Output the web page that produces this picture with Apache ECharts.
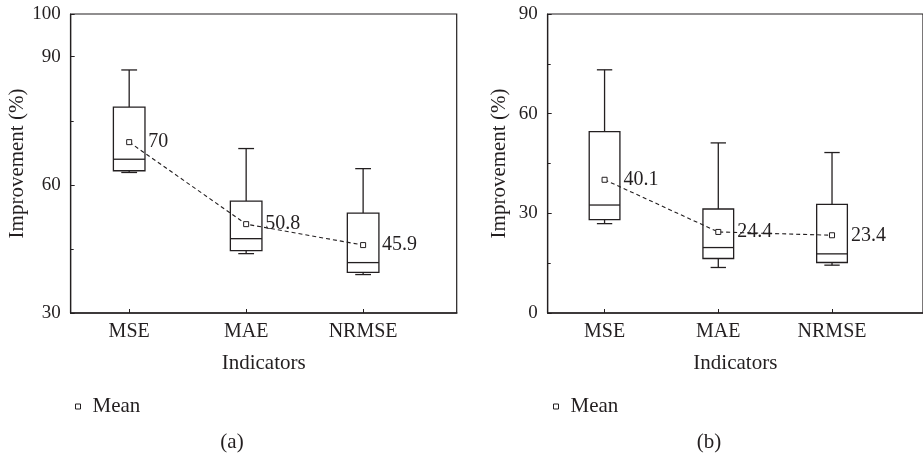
<!DOCTYPE html>
<html>
<head>
<meta charset="utf-8">
<script src="https://cdn.jsdelivr.net/npm/echarts@6/dist/echarts.min.js"></script>
<style>html,body{margin:0;padding:0;background:#fff}#c{width:923px;height:459px}</style>
</head>
<body>
<div id="c"></div>
<script>
// ---- data ----
const categories = ['MSE', 'MAE', 'NRMSE'];
const catPos = [1, 2, 3];
// panel (a)
const aLow = [62.9, 43.9, 39.0];
const aQ1 = [63.3, 44.6, 39.5];
const aMedian = [66.0, 47.4, 41.8];
const aQ3 = [78.2, 56.2, 53.4];
const aHigh = [86.9, 68.5, 63.8];
const aMean = [70, 50.8, 45.9];
// panel (b)
const bLow = [26.9, 13.7, 14.4];
const bQ1 = [28.1, 16.4, 15.2];
const bMedian = [32.5, 19.7, 17.8];
const bQ3 = [54.6, 31.3, 32.7];
const bHigh = [73.2, 51.2, 48.3];
const bMean = [40.1, 24.4, 23.4];

const INK = '#231f20';
const FONT = '"Liberation Serif", "DejaVu Serif", serif';

function boxRows(lo, q1, md, q3, hi) {
  return catPos.map((x, i) => [x, lo[i], q1[i], md[i], q3[i], hi[i]]);
}
function meanRows(m) { return catPos.map((x, i) => [x, m[i]]); }

function renderBox(params, api) {
  const x = api.value(0);
  const lo = api.coord([x, api.value(1)]);
  const q1 = api.coord([x, api.value(2)]);
  const md = api.coord([x, api.value(3)]);
  const q3 = api.coord([x, api.value(4)]);
  const hi = api.coord([x, api.value(5)]);
  const unit = api.size([1, 0])[0];
  const bw = unit * 0.27, cw = unit * 0.135;
  const cx = lo[0];
  const st = { stroke: INK, lineWidth: 1.3, fill: null };
  return {
    type: 'group',
    children: [
      { type: 'rect', shape: { x: cx - bw / 2, y: q3[1], width: bw, height: q1[1] - q3[1] }, style: st },
      { type: 'line', shape: { x1: cx - bw / 2, y1: md[1], x2: cx + bw / 2, y2: md[1] }, style: st },
      { type: 'line', shape: { x1: cx, y1: q3[1], x2: cx, y2: hi[1] }, style: st },
      { type: 'line', shape: { x1: cx - cw / 2, y1: hi[1], x2: cx + cw / 2, y2: hi[1] }, style: st },
      { type: 'line', shape: { x1: cx, y1: q1[1], x2: cx, y2: lo[1] }, style: st },
      { type: 'line', shape: { x1: cx - cw / 2, y1: lo[1], x2: cx + cw / 2, y2: lo[1] }, style: st }
    ]
  };
}

function xAxisFor(gi) {
  return {
    gridIndex: gi, type: 'value', min: 0.5, max: 3.8,
    name: 'Indicators', nameLocation: 'middle', nameGap: 40,
    nameTextStyle: { fontFamily: FONT, fontSize: 21, color: INK },
    splitLine: { show: false },
    axisLine: { show: true, lineStyle: { color: INK, width: 1.6 } },
    axisTick: { show: true, inside: true, length: 4, customValues: catPos, lineStyle: { color: INK, width: 1 } },
    axisLabel: { customValues: catPos, formatter: v => categories[Math.round(v) - 1] || '', fontFamily: FONT, fontSize: 20, color: INK, margin: 9 }
  };
}
function yAxisFor(gi, min, max, interval, minor) {
  return {
    gridIndex: gi, type: 'value', min: min, max: max, interval: interval, position: 'left',
    name: 'Improvement (%)', nameLocation: 'middle', nameGap: 38,
    nameTextStyle: { fontFamily: FONT, fontSize: 21, color: INK },
    splitLine: { show: false },
    axisLine: { show: true, lineStyle: { color: INK, width: 1.2 } },
    axisTick: { show: true, inside: true, length: 4, lineStyle: { color: INK, width: 1 } },
    minorTick: { show: minor, splitNumber: 2, length: 3, lineStyle: { color: INK, width: 1 } },
    axisLabel: { fontFamily: FONT, fontSize: 19, color: INK, margin: 10 }
  };
}

const option = {
  backgroundColor: '#fff',
  animation: false,
  grid: [
    { left: 70.7, top: 14, width: 386, height: 299, show: true, borderColor: INK, borderWidth: 1.2, containLabel: false },
    { left: 547.7, top: 14, width: 386, height: 299, show: true, borderColor: INK, borderWidth: 1.2, containLabel: false }
  ],
  xAxis: [xAxisFor(0), xAxisFor(1)],
  yAxis: [
    yAxisFor(0, 30, 100, 30, false),
    yAxisFor(1, 0, 90, 30, true),
    // minor ticks for panel (a)
    { gridIndex: 0, type: 'value', min: 30, max: 100, interval: 15, position: 'left',
      splitLine: { show: false }, axisLine: { show: false }, axisLabel: { show: false },
      axisTick: { show: true, inside: true, length: 3, lineStyle: { color: INK, width: 1 } } }
  ],
  legend: [
    { left: 70, top: 391, itemWidth: 5, itemHeight: 5,
      data: [{ name: 'Mean', icon: 'rect', itemStyle: { color: '#fff', borderColor: INK, borderWidth: 1 } }],
      textStyle: { fontFamily: FONT, fontSize: 21, color: INK, padding: [0, 0, 0, 7] } },
    { left: 548, top: 391, itemWidth: 5, itemHeight: 5,
      data: [{ name: 'Mean', icon: 'rect', itemStyle: { color: '#fff', borderColor: INK, borderWidth: 1 } }],
      textStyle: { fontFamily: FONT, fontSize: 21, color: INK, padding: [0, 0, 0, 7] } }
  ],
  graphic: [
    { type: 'text', x: 232, y: 442, style: { text: '(a)', textAlign: 'center', textVerticalAlign: 'middle', font: '21px ' + FONT, fill: INK } },
    { type: 'text', x: 709, y: 442, style: { text: '(b)', textAlign: 'center', textVerticalAlign: 'middle', font: '21px ' + FONT, fill: INK } }
  ],
  series: [
    { type: 'custom', name: 'boxA', xAxisIndex: 0, yAxisIndex: 0, renderItem: renderBox,
      encode: { x: 0, y: [1, 2, 3, 4, 5] }, data: boxRows(aLow, aQ1, aMedian, aQ3, aHigh), silent: true },
    { type: 'custom', name: 'boxB', xAxisIndex: 1, yAxisIndex: 1, renderItem: renderBox,
      encode: { x: 0, y: [1, 2, 3, 4, 5] }, data: boxRows(bLow, bQ1, bMedian, bQ3, bHigh), silent: true },
    { type: 'line', name: 'Mean', xAxisIndex: 0, yAxisIndex: 0, data: meanRows(aMean),
      symbol: 'rect', symbolSize: 5, showAllSymbol: true,
      itemStyle: { color: '#fff', borderColor: INK, borderWidth: 1 },
      lineStyle: { color: INK, width: 1.1, type: [4, 3] },
      label: { show: true, position: 'right', distance: 16, formatter: p => String(p.value[1]), fontFamily: FONT, fontSize: 20, color: INK } },
    { type: 'line', name: 'Mean', xAxisIndex: 1, yAxisIndex: 1, data: meanRows(bMean),
      symbol: 'rect', symbolSize: 5, showAllSymbol: true,
      itemStyle: { color: '#fff', borderColor: INK, borderWidth: 1 },
      lineStyle: { color: INK, width: 1.1, type: [4, 3] },
      label: { show: true, position: 'right', distance: 16, formatter: p => String(p.value[1]), fontFamily: FONT, fontSize: 20, color: INK } }
  ]
};
const chart = echarts.init(document.getElementById('c'), null, { renderer: 'canvas' });
chart.setOption(option);
</script>
</body>
</html>
